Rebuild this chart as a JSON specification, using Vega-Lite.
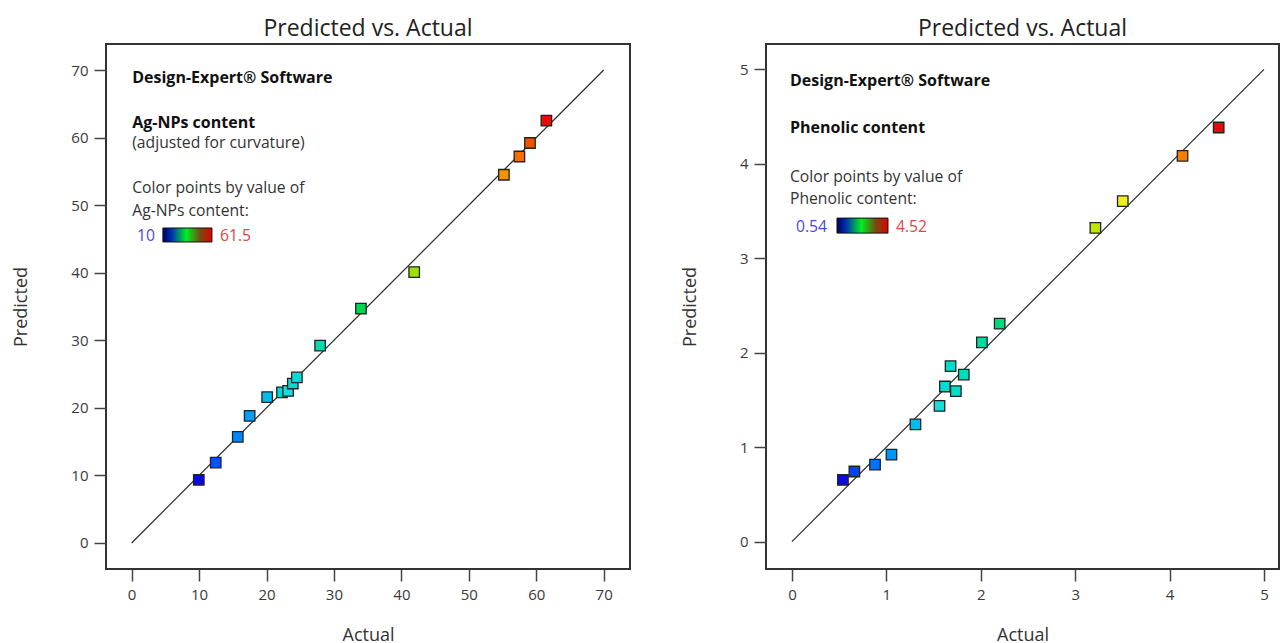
{
  "$schema": "https://vega.github.io/schema/vega-lite/v6.json",
  "background": "white",
  "padding": {"left": 11, "top": 17, "right": 0, "bottom": 0},
  "spacing": 49,
  "resolve": {"scale": {"color": "independent"}},
  "config": {
    "font": "Open Sans",
    "view": {"stroke": "#333333", "strokeWidth": 2},
    "axis": {"domain": false, "grid": false, "tickColor": "#444444", "tickWidth": 1.5, "tickSize": 12, "labelFont": "Open Sans", "labelFontSize": 15, "labelColor": "#3a3a3a", "labelPadding": 6, "titleFont": "Open Sans", "titleFontSize": 18, "titleFontWeight": "normal", "titleColor": "#333333"},
    "title": {"font": "Open Sans", "fontSize": 23, "fontWeight": "normal", "color": "#222222", "offset": 3}
  },
  "hconcat": [
    {
      "title": "Predicted vs. Actual",
      "width": 524,
      "height": 525,
      "layer": [
        {
          "data": {"values": [{"x0": 0, "x1": 70}]},
          "mark": {"type": "rule", "color": "#2a2a2a", "strokeWidth": 1.2},
          "encoding": {
            "x": {"field": "x0", "type": "quantitative", "scale": {"domain": [-3.8, 73.9], "nice": false, "zero": false}, "axis": {"values": [0, 10, 20, 30, 40, 50, 60, 70], "format": "d", "title": "Actual", "titlePadding": 24}},
            "y": {"field": "x0", "type": "quantitative", "scale": {"domain": [-3.85, 73.85], "nice": false, "zero": false}, "axis": {"values": [0, 10, 20, 30, 40, 50, 60, 70], "format": "d", "title": "Predicted", "titlePadding": 40}},
            "x2": {"field": "x1"},
            "y2": {"field": "x1"}
          }
        },
        {
          "data": {"values": [
            {"actual": 9.96, "predicted": 9.35},
            {"actual": 12.47, "predicted": 11.9},
            {"actual": 15.74, "predicted": 15.7},
            {"actual": 17.5, "predicted": 18.8},
            {"actual": 20.1, "predicted": 21.6},
            {"actual": 22.3, "predicted": 22.3},
            {"actual": 23.2, "predicted": 22.5},
            {"actual": 23.9, "predicted": 23.6},
            {"actual": 24.5, "predicted": 24.5},
            {"actual": 27.95, "predicted": 29.2},
            {"actual": 34.0, "predicted": 34.7},
            {"actual": 41.9, "predicted": 40.1},
            {"actual": 55.2, "predicted": 54.5},
            {"actual": 57.5, "predicted": 57.2},
            {"actual": 59.07, "predicted": 59.2},
            {"actual": 61.5, "predicted": 62.5}
          ]},
          "mark": {"type": "point", "shape": "square", "filled": true, "size": 110, "stroke": "#222222", "strokeWidth": 1.3, "opacity": 1},
          "encoding": {
            "x": {"field": "actual", "type": "quantitative"},
            "y": {"field": "predicted", "type": "quantitative"},
            "color": {"field": "actual", "type": "quantitative", "legend": null, "scale": {"domain": [10, 22.875, 35.75, 48.625, 61.5], "range": ["#0a0ae0", "#28dcdc", "#28d228", "#f0f01e", "#e60a0a"], "clamp": true}}
          }
        },
        {
          "data": {"values": [{"label": "Design-Expert® Software"}]},
          "mark": {"type": "text", "align": "left", "baseline": "middle", "fontSize": 16, "fontWeight": "bold", "color": "#111111"},
          "encoding": {"x": {"datum": 0.09, "type": "quantitative"}, "y": {"datum": 68.78, "type": "quantitative"}, "text": {"field": "label"}}
        },
        {
          "data": {"values": [{"label": "Ag-NPs content"}]},
          "mark": {"type": "text", "align": "left", "baseline": "middle", "fontSize": 16, "fontWeight": "bold", "color": "#111111"},
          "encoding": {"x": {"datum": 0.09, "type": "quantitative"}, "y": {"datum": 62.2, "type": "quantitative"}, "text": {"field": "label"}}
        },
        {
          "data": {"values": [{"label": "(adjusted for curvature)"}]},
          "mark": {"type": "text", "align": "left", "baseline": "middle", "fontSize": 15.7, "color": "#333333"},
          "encoding": {"x": {"datum": 0.09, "type": "quantitative"}, "y": {"datum": 59.24, "type": "quantitative"}, "text": {"field": "label"}}
        },
        {
          "data": {"values": [{"label": "Color points by value of"}]},
          "mark": {"type": "text", "align": "left", "baseline": "middle", "fontSize": 15.7, "color": "#333333"},
          "encoding": {"x": {"datum": 0.09, "type": "quantitative"}, "y": {"datum": 52.49, "type": "quantitative"}, "text": {"field": "label"}}
        },
        {
          "data": {"values": [{"label": "Ag-NPs content:"}]},
          "mark": {"type": "text", "align": "left", "baseline": "middle", "fontSize": 15.7, "color": "#333333"},
          "encoding": {"x": {"datum": 0.09, "type": "quantitative"}, "y": {"datum": 49.18, "type": "quantitative"}, "text": {"field": "label"}}
        },
        {
          "data": {"values": [{"label": "10"}]},
          "mark": {"type": "text", "align": "left", "baseline": "middle", "fontSize": 15.7, "color": "#4a4ad2"},
          "encoding": {"x": {"datum": 0.79, "type": "quantitative"}, "y": {"datum": 45.43, "type": "quantitative"}, "text": {"field": "label"}}
        },
        {
          "data": {"values": [{"label": "61.5"}]},
          "mark": {"type": "text", "align": "left", "baseline": "middle", "fontSize": 15.7, "color": "#d84848"},
          "encoding": {"x": {"datum": 13.1, "type": "quantitative"}, "y": {"datum": 45.43, "type": "quantitative"}, "text": {"field": "label"}}
        },
        {
          "data": {"values": [{"label": "bar"}]},
          "mark": {"type": "rect", "stroke": "#111111", "strokeWidth": 1, "fill": {"gradient": "linear", "x1": 0, "y1": 0, "x2": 1, "y2": 0, "stops": [{"offset": 0, "color": "#000060"}, {"offset": 0.18, "color": "#0030b0"}, {"offset": 0.48, "color": "#00f020"}, {"offset": 0.75, "color": "#705010"}, {"offset": 1, "color": "#e00000"}]}},
          "encoding": {"x": {"datum": 4.64, "type": "quantitative"}, "x2": {"datum": 11.91}, "y": {"datum": 46.62, "type": "quantitative"}, "y2": {"datum": 44.55}}
        }
      ]
    },
    {
      "title": "Predicted vs. Actual",
      "width": 513,
      "height": 525,
      "layer": [
        {
          "data": {"values": [{"x0": 0, "x1": 5}]},
          "mark": {"type": "rule", "color": "#2a2a2a", "strokeWidth": 1.2},
          "encoding": {
            "x": {"field": "x0", "type": "quantitative", "scale": {"domain": [-0.275, 5.159], "nice": false, "zero": false}, "axis": {"values": [0, 1, 2, 3, 4, 5], "format": "d", "title": "Actual", "titlePadding": 24}},
            "y": {"field": "x0", "type": "quantitative", "scale": {"domain": [-0.29, 5.268], "nice": false, "zero": false}, "axis": {"values": [0, 1, 2, 3, 4, 5], "format": "d", "title": "Predicted", "titlePadding": 40}},
            "x2": {"field": "x1"},
            "y2": {"field": "x1"}
          }
        },
        {
          "data": {"values": [
            {"actual": 0.54, "predicted": 0.653},
            {"actual": 0.661, "predicted": 0.742},
            {"actual": 0.88, "predicted": 0.815},
            {"actual": 1.054, "predicted": 0.92},
            {"actual": 1.308, "predicted": 1.241},
            {"actual": 1.563, "predicted": 1.436},
            {"actual": 1.62, "predicted": 1.642},
            {"actual": 1.736, "predicted": 1.594},
            {"actual": 1.68, "predicted": 1.857},
            {"actual": 1.82, "predicted": 1.768},
            {"actual": 2.012, "predicted": 2.109},
            {"actual": 2.2, "predicted": 2.307},
            {"actual": 3.214, "predicted": 3.321},
            {"actual": 3.504, "predicted": 3.605},
            {"actual": 4.137, "predicted": 4.084},
            {"actual": 4.52, "predicted": 4.384}
          ]},
          "mark": {"type": "point", "shape": "square", "filled": true, "size": 110, "stroke": "#222222", "strokeWidth": 1.3, "opacity": 1},
          "encoding": {
            "x": {"field": "actual", "type": "quantitative"},
            "y": {"field": "predicted", "type": "quantitative"},
            "color": {"field": "actual", "type": "quantitative", "legend": null, "scale": {"domain": [0.54, 1.535, 2.53, 3.525, 4.52], "range": ["#0a0ae0", "#28dcdc", "#28d228", "#f0f01e", "#e60a0a"], "clamp": true}}
          }
        },
        {
          "data": {"values": [{"label": "Design-Expert® Software"}]},
          "mark": {"type": "text", "align": "left", "baseline": "middle", "fontSize": 16, "fontWeight": "bold", "color": "#111111"},
          "encoding": {"x": {"datum": -0.021, "type": "quantitative"}, "y": {"datum": 4.879, "type": "quantitative"}, "text": {"field": "label"}}
        },
        {
          "data": {"values": [{"label": "Phenolic content"}]},
          "mark": {"type": "text", "align": "left", "baseline": "middle", "fontSize": 16, "fontWeight": "bold", "color": "#111111"},
          "encoding": {"x": {"datum": -0.021, "type": "quantitative"}, "y": {"datum": 4.381, "type": "quantitative"}, "text": {"field": "label"}}
        },
        {
          "data": {"values": [{"label": "Color points by value of"}]},
          "mark": {"type": "text", "align": "left", "baseline": "middle", "fontSize": 15.7, "color": "#333333"},
          "encoding": {"x": {"datum": -0.021, "type": "quantitative"}, "y": {"datum": 3.862, "type": "quantitative"}, "text": {"field": "label"}}
        },
        {
          "data": {"values": [{"label": "Phenolic content:"}]},
          "mark": {"type": "text", "align": "left", "baseline": "middle", "fontSize": 15.7, "color": "#333333"},
          "encoding": {"x": {"datum": -0.021, "type": "quantitative"}, "y": {"datum": 3.623, "type": "quantitative"}, "text": {"field": "label"}}
        },
        {
          "data": {"values": [{"label": "0.54"}]},
          "mark": {"type": "text", "align": "left", "baseline": "middle", "fontSize": 15.7, "color": "#4a4ad2"},
          "encoding": {"x": {"datum": 0.042, "type": "quantitative"}, "y": {"datum": 3.333, "type": "quantitative"}, "text": {"field": "label"}}
        },
        {
          "data": {"values": [{"label": "4.52"}]},
          "mark": {"type": "text", "align": "left", "baseline": "middle", "fontSize": 15.7, "color": "#d84848"},
          "encoding": {"x": {"datum": 1.102, "type": "quantitative"}, "y": {"datum": 3.333, "type": "quantitative"}, "text": {"field": "label"}}
        },
        {
          "data": {"values": [{"label": "bar"}]},
          "mark": {"type": "rect", "stroke": "#111111", "strokeWidth": 1, "fill": {"gradient": "linear", "x1": 0, "y1": 0, "x2": 1, "y2": 0, "stops": [{"offset": 0, "color": "#000060"}, {"offset": 0.18, "color": "#0030b0"}, {"offset": 0.48, "color": "#00f020"}, {"offset": 0.75, "color": "#705010"}, {"offset": 1, "color": "#e00000"}]}},
          "encoding": {"x": {"datum": 0.477, "type": "quantitative"}, "x2": {"datum": 1.017}, "y": {"datum": 3.425, "type": "quantitative"}, "y2": {"datum": 3.266}}
        }
      ]
    }
  ]
}
